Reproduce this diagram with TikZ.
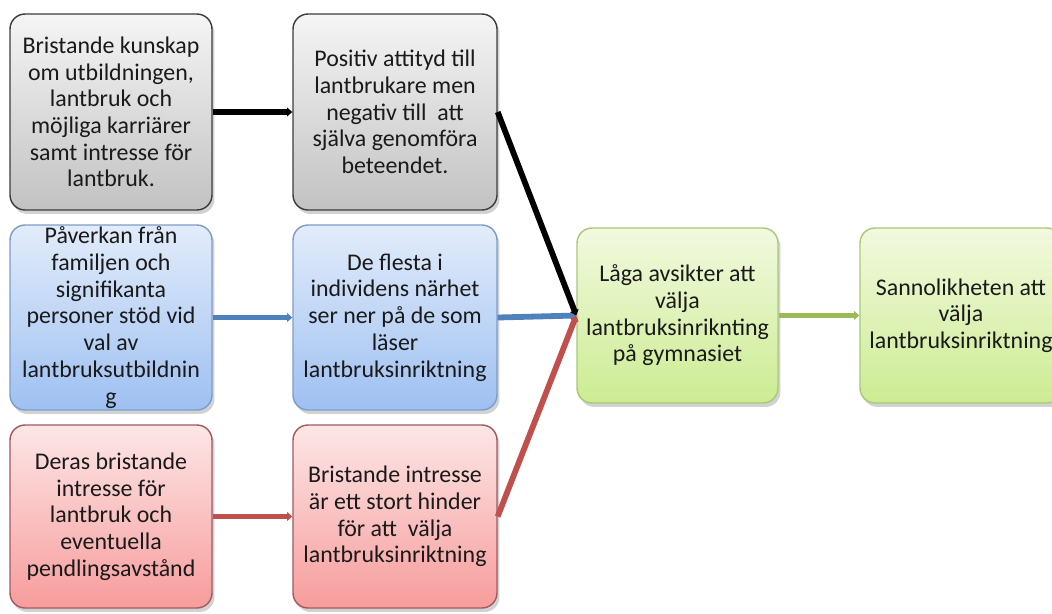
\documentclass[tikz,border=0pt]{standalone}
\usepackage{fontspec}
\setmainfont{Carlito}
\usetikzlibrary{positioning}
\usetikzlibrary{shadows}
\usetikzlibrary{arrows.meta}

\definecolor{grayTop}{HTML}{F5F5F5}
\definecolor{grayBot}{HTML}{C2C2C2}
\definecolor{grayLine}{HTML}{3C3C3C}
\definecolor{blueTop}{HTML}{E2ECFA}
\definecolor{blueBot}{HTML}{9EC0F2}
\definecolor{blueLine}{HTML}{7E9CC8}
\definecolor{blueLink}{HTML}{4F81BD}
\definecolor{redTop}{HTML}{FDE6E6}
\definecolor{redBot}{HTML}{F79C9C}
\definecolor{redLine}{HTML}{A25A5E}
\definecolor{redLink}{HTML}{C0504D}
\definecolor{greenTop}{HTML}{F2F9DF}
\definecolor{greenBot}{HTML}{CCEC92}
\definecolor{greenLine}{HTML}{A9C97A}
\definecolor{greenLink}{HTML}{9BBB59}
\definecolor{textCol}{HTML}{1A1A1A}

\tikzset{
  box/.style={rounded corners=0.3cm, minimum width=4.04cm, inner sep=0pt,
    align=center, font=\fontsize{13.6}{15.2}\selectfont, text=textCol,
    line width=0.8pt,
    drop shadow={shadow xshift=0.5mm, shadow yshift=-0.8mm, opacity=0.35}},
  graybox/.style={box, draw=grayLine, top color=grayTop, bottom color=grayBot},
  bluebox/.style={box, draw=blueLine, top color=blueTop, bottom color=blueBot},
  redbox/.style={box, draw=redLine, top color=redTop, bottom color=redBot},
  greenbox/.style={box, draw=greenLine, top color=greenTop, bottom color=greenBot},
  link/.style={line width=3.3pt, -{Triangle[length=3pt,width=5pt]}}
}

\begin{document}
\begin{tikzpicture}[x=0.02cm, y=-0.02cm]
\useasboundingbox (0,0) rectangle (1052,613);
\clip (0,0) rectangle (1052,613);
\fill[white] (0,0) rectangle (1052,613);

% row 1
\node[graybox, minimum height=3.92cm] (kunskap) at (111,112)
  {Bristande kunskap\\om utbildningen,\\lantbruk och\\möjliga karriärer\\samt intresse för\\lantbruk.};
\node[graybox, minimum width=4.08cm, minimum height=3.92cm] (attityd) at (395,112)
  {Positiv attityd till\\lantbrukare men\\negativ till~ att\\själva genomföra\\beteendet.};

% row 2
\node[bluebox, minimum height=3.7cm] (familj) at (111,317.5)
  {Påverkan från\\familjen och\\signifikanta\\personer stöd vid\\val av\\lantbruksutbildnin\\g};
\node[bluebox, minimum width=4.08cm, minimum height=3.7cm] (narhet) at (395,317.5)
  {De flesta i\\individens närhet\\ser ner på de som\\läser\\lantbruksinriktning};

% row 3
\node[redbox, minimum height=3.66cm] (pendling) at (111,516.5)
  {Deras bristande\\intresse för\\lantbruk och\\eventuella\\pendlingsavstånd};
\node[redbox, minimum width=4.08cm, minimum height=3.66cm] (hinder) at (395,516.5)
  {Bristande intresse\\är ett stort hinder\\för att~ välja\\lantbruksinriktning};

% outcome
\node[greenbox, minimum width=4.02cm, minimum height=3.5cm] (avsikt) at (677.5,315.5)
  {Låga avsikter att\\välja\\lantbruksinriknting\\på gymnasiet};
\node[greenbox, minimum height=3.5cm] (sannolik) at (961,315.5)
  {Sannolikheten att\\välja\\lantbruksinriktning};

\draw[link, black] (kunskap) -- (attityd);
\draw[link, blueLink] (familj) -- (narhet);
\draw[link, redLink] (pendling) -- (hinder);
\draw[link, blueLink] (narhet.east) -- (avsikt.west);
\draw[link, redLink] (hinder.east) -- (avsikt.west);
\draw[link, black] (attityd.east) -- (avsikt.west);
\draw[link, greenLink] (avsikt) -- (sannolik);
\end{tikzpicture}
\end{document}
